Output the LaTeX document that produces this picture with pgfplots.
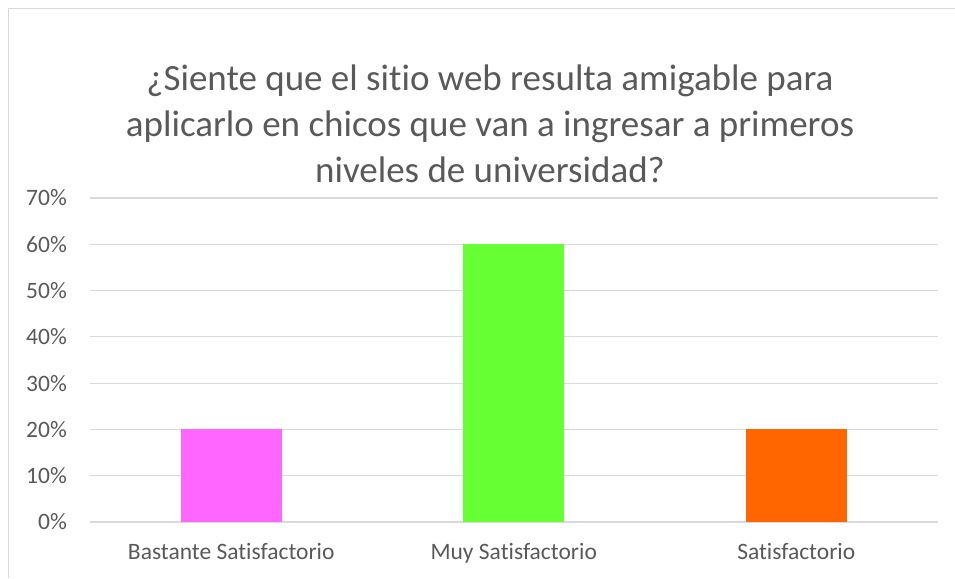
\documentclass[border=0pt]{standalone}
\usepackage{fontspec}
\setmainfont[Ligatures={NoCommon}]{Carlito}
\usepackage{pgfplots}
\pgfplotsset{compat=1.18}
\definecolor{textgray}{HTML}{595959}
\definecolor{gridgray}{HTML}{D9D9D9}
\definecolor{pinkbar}{HTML}{FF66FF}
\definecolor{greenbar}{HTML}{66FF33}
\definecolor{orangebar}{HTML}{FF6600}
\begin{document}
\begin{tikzpicture}
\useasboundingbox (0pt,0pt) rectangle (955pt,578pt);
\draw[gridgray, line width=1.5pt] (8.5pt,0pt) -- (8.5pt,569.5pt) -- (955pt,569.5pt);
\node[align=center, font=\fontsize{37}{46}\selectfont, text=textgray] at (490pt,454pt)
  {¿Siente que el sitio web resulta amigable para\\aplicarlo en chicos que van a ingresar a primeros\\niveles de universidad?};
\begin{axis}[
  at={(90pt,56pt)}, anchor=south west,
  scale only axis, width=847.5pt, height=324pt,
  xmin=-0.5, xmax=2.5, ymin=0, ymax=70,
  xtick={0,1,2},
  xticklabels={Bastante Satisfactorio, Muy Satisfactorio, Satisfactorio},
  ytick={0,10,...,70},
  yticklabels={0\%,10\%,20\%,30\%,40\%,50\%,60\%,70\%},
  ymajorgrids, grid style={gridgray, line width=1.2pt},
  axis line style={draw=none},
  major tick length=0pt,
  tick label style={font=\fontsize{23.5}{27}\selectfont, text=textgray},
  yticklabel style={inner sep=0pt, xshift=-23pt},
  xticklabel style={inner sep=0pt, yshift=-21pt},
  /pgf/number format/assume math mode=true,
  ybar, bar width=101pt,
]
\addplot[fill=pinkbar, draw=none, bar shift=0pt] coordinates {(0,20)};
\addplot[fill=greenbar, draw=none, bar shift=0pt] coordinates {(1,60)};
\addplot[fill=orangebar, draw=none, bar shift=0pt] coordinates {(2,20)};
\end{axis}
\end{tikzpicture}
\end{document}
